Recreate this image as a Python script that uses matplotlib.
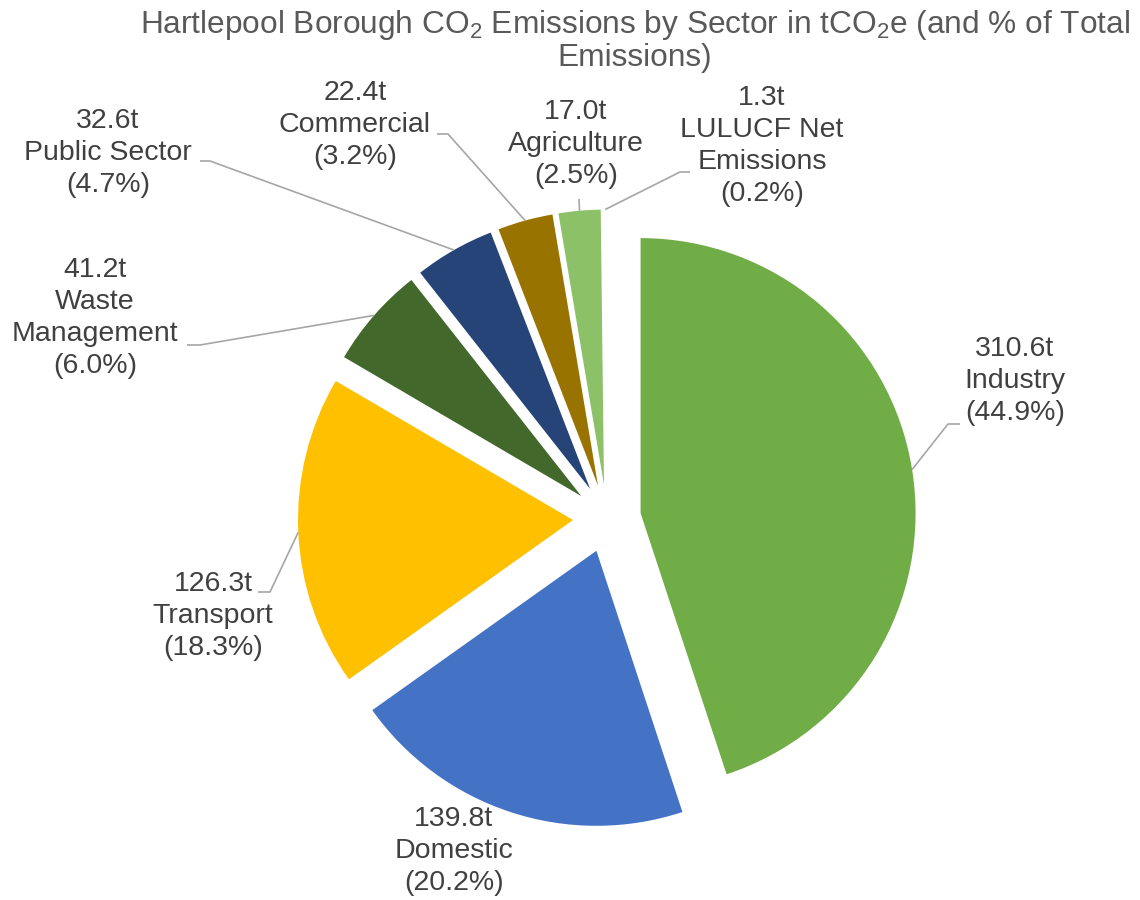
import numpy as np
import matplotlib.pyplot as plt

plt.rcParams["font.family"] = ["Liberation Sans", "DejaVu Sans"]
plt.rcParams["mathtext.fontset"] = "custom"
plt.rcParams["mathtext.rm"] = "Liberation Sans"
plt.rcParams["mathtext.it"] = "Liberation Sans:italic"

# sector totals (tCO2e)
sectors = ["Industry", "Domestic", "Transport", "Waste\nManagement", "Public Sector",
           "Commercial", "Agriculture", "LULUCF Net\nEmissions"]
emissions = [310.6, 139.8, 126.3, 41.2, 32.6, 22.4, 17.0, 1.3]
colours = ["#70AD47", "#4472C4", "#FFC000", "#43682B", "#264478",
           "#997300", "#8CC168", "none"]

# layout in pixel space (origin top left)
CENTRE = (607, 518.5)
RADIUS = 275
EXPLODE = 34  # pie() takes the offset in data units
label_pos = [(1015, 381), (454, 851), (213, 616), (95, 318), (108, 153),
             (355, 125), (576, 144), (762, 146)]
leader_start = [(960, 424), None, (258, 592), (187, 345), (200, 161),
                (437, 134), (579, 199), (690, 172)]
leader_elbow = [(948, 424), None, (270, 592), (200, 345), (210, 161),
                (448, 134), None, (680, 172)]

TEXT = "#404040"
LINE = "#A6A6A6"

fig = plt.figure(figsize=(11.4, 9), dpi=100)
ax = fig.add_axes([0, 0, 1, 1])

# y axis is flipped below, so counterclock in data space runs clockwise on screen
wedges, _ = ax.pie(emissions, colors=colours, startangle=-90, counterclock=True,
                   radius=RADIUS, center=CENTRE, explode=[EXPLODE] * len(emissions),
                   wedgeprops=dict(linewidth=0))
ax.set_xlim(0, 1140)
ax.set_ylim(900, 0)
ax.set_aspect("equal")
ax.axis("off")

total = sum(emissions)
for i, w in enumerate(wedges):
    value = emissions[i]
    txt = f"{value:.1f}t\n{sectors[i]}\n({value / total * 100:.1f}%)"
    x, y = label_pos[i]
    ax.text(x, y, txt, ha="center", va="center", multialignment="center",
            fontsize=20.5, color=TEXT, linespacing=1.3)

    if leader_start[i] is None:
        continue
    mid = np.deg2rad((w.theta1 + w.theta2) / 2)
    tip = (w.center[0] + w.r * np.cos(mid), w.center[1] + w.r * np.sin(mid))
    pts = [leader_start[i]]
    if leader_elbow[i] is not None:
        pts.append(leader_elbow[i])
    pts.append(tip)
    xs, ys = zip(*pts)
    ax.plot(xs, ys, color=LINE, lw=1.2, solid_capstyle="butt")

ax.text(635, 8, "Hartlepool Borough CO$_2$ Emissions by Sector in tCO$_2$e (and % of Total\nEmissions)",
        ha="center", va="top", multialignment="center", fontsize=22.8,
        color="#595959", linespacing=1.06)

fig.savefig("out.png", dpi=100)
